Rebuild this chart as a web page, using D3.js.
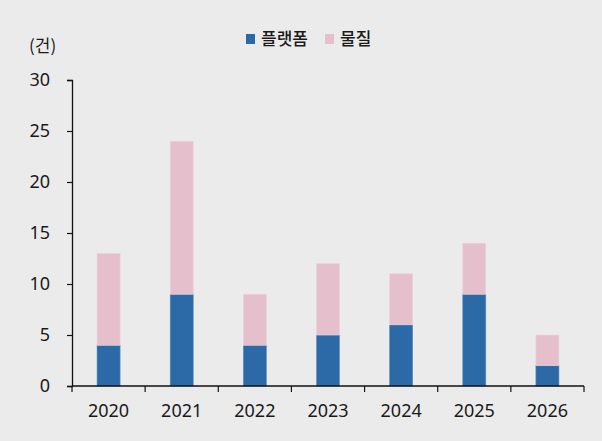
<!DOCTYPE html>
<html><head><meta charset="utf-8">
<script src="https://cdn.jsdelivr.net/npm/d3@7"></script>
<style>
html,body{margin:0;padding:0;background:#ebebeb;}
text{font-family:"Noto Sans CJK KR","Noto Sans",sans-serif;fill:#1a1a1a;}
</style></head>
<body>
<svg id="c" width="602" height="441"></svg>
<script>
const categories = ["2020","2021","2022","2023","2024","2025","2026"];
const platform = [4, 9, 4, 5, 6, 9, 2];
const material = [9, 15, 5, 7, 5, 5, 3];
const seriesNames = ["플랫폼","물질"];
const seriesColors = ["#2b6aa6","#e5bfcc"];
const yTicks = [0,5,10,15,20,25,30];

const numFont = "'Noto Sans',sans-serif";
const svg = d3.select("#c");
svg.append("rect").attr("width",602).attr("height",441).attr("fill","#ebebeb");
const m = {l:72, r:18, t:80, b:55};
const x = d3.scaleBand().domain(categories).range([m.l, 584]).paddingInner(0.685).paddingOuter(0.3425);
const xAxisScale = d3.scaleBand().domain(categories).range([m.l, 584]);
const y = d3.scaleLinear().domain([0,30]).range([386, 80]);

const data = categories.map((c,i)=>({cat:c, platform:platform[i], material:material[i]}));
const stack = d3.stack().keys(["platform","material"])(data);
const g = svg.append("g");
stack.forEach((s,si)=>{
  g.selectAll(null).data(s).enter().append("rect")
   .attr("x", d=>x(d.data.cat))
   .attr("width", x.bandwidth())
   .attr("y", d=>y(d[1]))
   .attr("height", d=>y(d[0])-y(d[1]))
   .attr("fill", seriesColors[si])
   .attr("stroke", si===0 ? "#5d8fc0" : "#ecd3dc")
   .attr("stroke-width", 0.6);
});

// y axis
const ya = svg.append("g").attr("transform",`translate(${m.l},0)`)
  .call(d3.axisLeft(y).tickValues(yTicks).tickSize(5).tickPadding(17));
ya.select(".domain").attr("stroke","#111").attr("stroke-width",1.3);
ya.selectAll(".tick line").attr("stroke","#111").attr("stroke-width",1.2);
ya.selectAll(".tick text").attr("font-size",18).attr("fill","#1a1a1a")
  .style("font-family",numFont);

// x axis
const xa = svg.append("g").attr("transform",`translate(0,386)`);
xa.append("line").attr("x1",m.l).attr("x2",584).attr("y1",0).attr("y2",0).attr("stroke","#111").attr("stroke-width",1.3);
const tickPos = categories.map(c=>xAxisScale(c)).concat([584]);
xa.selectAll(null).data(tickPos).enter().append("line")
  .attr("x1",d=>d).attr("x2",d=>d).attr("y1",0).attr("y2",6).attr("stroke","#111").attr("stroke-width",1.2);
xa.selectAll(null).data(categories).enter().append("text")
  .attr("x",d=>xAxisScale(d)+xAxisScale.bandwidth()/2).attr("y",31)
  .attr("text-anchor","middle").attr("font-size",18).style("font-family",numFont).text(d=>d);

// unit
svg.append("text").attr("x",29).attr("y",52).attr("font-size",17).text("(건)");

// legend
const legX = [246, 325];
seriesNames.forEach((n,i)=>{
  svg.append("rect").attr("x",legX[i]).attr("y",34).attr("width",9).attr("height",10).attr("fill",seriesColors[i]);
  svg.append("text").attr("x",legX[i]+15).attr("y",45).attr("font-size",17).attr("font-weight",500).text(n);
});
</script>
</body></html>
